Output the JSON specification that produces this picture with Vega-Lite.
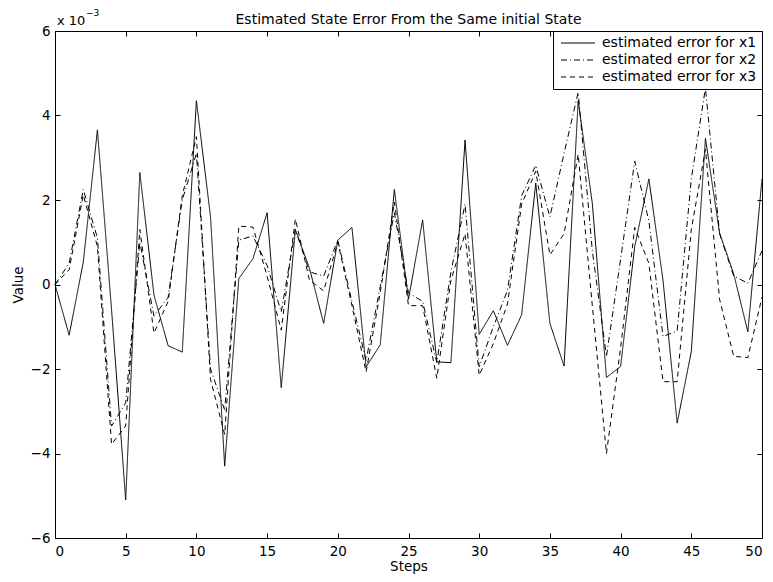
{
  "$schema": "https://vega.github.io/schema/vega-lite/v6.json",
  "autosize": {"type": "none"},
  "padding": {"left": 55, "top": 31, "right": 11, "bottom": 44},
  "width": 707,
  "height": 507,
  "background": "white",
  "title": {"text": "Estimated State Error From the Same initial State", "font": "DejaVu Sans", "fontSize": 14, "fontWeight": "normal", "color": "black", "baseline": "alphabetic", "offset": 0, "dy": 29},
  "data": {"values": [
    {"step": 0, "x1": 0, "x2": 0, "x3": 0},
    {"step": 1, "x1": -0.0012, "x2": 0.0005, "x3": 0.00035},
    {"step": 2, "x1": 0.00053, "x2": 0.00225, "x3": 0.00212},
    {"step": 3, "x1": 0.00366, "x2": 0.0011, "x3": 0.0009},
    {"step": 4, "x1": -0.0006, "x2": -0.00335, "x3": -0.00378},
    {"step": 5, "x1": -0.0051, "x2": -0.0028, "x3": -0.00335},
    {"step": 6, "x1": 0.00265, "x2": 0.001, "x3": 0.0013},
    {"step": 7, "x1": -0.00025, "x2": -0.00075, "x3": -0.00115},
    {"step": 8, "x1": -0.00145, "x2": -0.0003, "x3": -0.0004},
    {"step": 9, "x1": -0.0016, "x2": 0.002, "x3": 0.0021},
    {"step": 10, "x1": 0.00435, "x2": 0.0031, "x3": 0.0035},
    {"step": 11, "x1": 0.0016, "x2": -0.002, "x3": -0.00225},
    {"step": 12, "x1": -0.0043, "x2": -0.00297, "x3": -0.00355},
    {"step": 13, "x1": 0.00014, "x2": 0.00105, "x3": 0.00138},
    {"step": 14, "x1": 0.00061, "x2": 0.00115, "x3": 0.00136},
    {"step": 15, "x1": 0.0017, "x2": 0.00045, "x3": 0.0002},
    {"step": 16, "x1": -0.00244, "x2": -0.00065, "x3": -0.00108},
    {"step": 17, "x1": 0.0013, "x2": 0.0013, "x3": 0.00155},
    {"step": 18, "x1": 0.00038, "x2": 0.0003, "x3": 0.0001},
    {"step": 19, "x1": -0.00092, "x2": 0.0002, "x3": -0.00015},
    {"step": 20, "x1": 0.00105, "x2": 0.00105, "x3": 0.001},
    {"step": 21, "x1": 0.00135, "x2": -0.0004, "x3": -0.0005},
    {"step": 22, "x1": -0.00195, "x2": -0.0018, "x3": -0.00207},
    {"step": 23, "x1": -0.00143, "x2": -0.00005, "x3": -0.0002},
    {"step": 24, "x1": 0.00225, "x2": 0.0017, "x3": 0.00195},
    {"step": 25, "x1": -0.00035, "x2": -0.0002, "x3": -0.0005},
    {"step": 26, "x1": 0.00153, "x2": -0.0004, "x3": -0.0005},
    {"step": 27, "x1": -0.00183, "x2": -0.00185, "x3": -0.00222},
    {"step": 28, "x1": -0.00185, "x2": 0.0003, "x3": 0.0001},
    {"step": 29, "x1": 0.00342, "x2": 0.0019, "x3": 0.0012},
    {"step": 30, "x1": -0.00118, "x2": -0.00195, "x3": -0.00215},
    {"step": 31, "x1": -0.00062, "x2": -0.001, "x3": -0.0014},
    {"step": 32, "x1": -0.00144, "x2": -0.00014, "x3": -0.00046},
    {"step": 33, "x1": -0.00072, "x2": 0.0021, "x3": 0.0019},
    {"step": 34, "x1": 0.0024, "x2": 0.00282, "x3": 0.00268},
    {"step": 35, "x1": -0.00092, "x2": 0.0016, "x3": 0.0007},
    {"step": 36, "x1": -0.00193, "x2": 0.0031, "x3": 0.0012},
    {"step": 37, "x1": 0.00435, "x2": 0.00455, "x3": 0.00308},
    {"step": 38, "x1": 0.00192, "x2": 0.0008, "x3": -0.0005},
    {"step": 39, "x1": -0.0022, "x2": -0.0017, "x3": -0.004},
    {"step": 40, "x1": -0.00194, "x2": 0.0006, "x3": -0.0015},
    {"step": 41, "x1": 0.0009, "x2": 0.00292, "x3": 0.00135},
    {"step": 42, "x1": 0.0025, "x2": 0.0015, "x3": 0.0005},
    {"step": 43, "x1": 0.0001, "x2": -0.00123, "x3": -0.0023},
    {"step": 44, "x1": -0.00328, "x2": -0.0011, "x3": -0.0023},
    {"step": 45, "x1": -0.00159, "x2": 0.0025, "x3": 0.0013},
    {"step": 46, "x1": 0.00346, "x2": 0.00465, "x3": 0.0032},
    {"step": 47, "x1": 0.00122, "x2": 0.0012, "x3": -0.00035},
    {"step": 48, "x1": 0.00025, "x2": 0.0002, "x3": -0.0017},
    {"step": 49, "x1": -0.00112, "x2": 0.00003, "x3": -0.00173},
    {"step": 50, "x1": 0.0025, "x2": 0.0008, "x3": -0.0003}
  ]},
  "transform": [{"fold": ["x1", "x2", "x3"], "as": ["series", "value"]}],
  "layer": [
    {
      "mark": {"type": "line", "strokeWidth": 1, "color": "black"},
      "encoding": {
        "x": {"field": "step", "type": "quantitative", "scale": {"domain": [0, 50], "nice": false}, "axis": {"title": "Steps", "values": [0, 5, 10, 15, 20, 25, 30, 35, 40, 45, 50], "orient": "bottom", "titlePadding": 2, "labelPadding": 11}},
        "y": {"field": "value", "type": "quantitative", "scale": {"domain": [-0.006, 0.006], "nice": false}, "axis": {"title": "Value", "values": [-0.006, -0.004, -0.002, 0, 0.002, 0.004, 0.006], "labelExpr": "format(datum.value*1000, 'd')", "orient": "left", "titleX": -30, "titleY": 253.5, "labelPadding": 10}},
        "strokeDash": {"field": "series", "type": "nominal", "scale": {"domain": ["x1", "x2", "x3"], "range": [[1, 0], [6, 3, 1, 3], [5, 4]]}, "legend": {"title": null, "orient": "top-right", "offset": 0, "labelExpr": "'estimated error for ' + datum.label"}}
      }
    },
    {
      "mark": {"type": "point", "opacity": 0},
      "encoding": {
        "x": {"field": "step", "type": "quantitative", "axis": {"orient": "top", "labels": false, "title": null, "values": [0, 5, 10, 15, 20, 25, 30, 35, 40, 45, 50]}},
        "y": {"field": "value", "type": "quantitative", "axis": {"orient": "right", "labels": false, "title": null, "values": [-0.006, -0.004, -0.002, 0, 0.002, 0.004, 0.006]}}
      }
    },
    {
      "data": {"values": [{"label": "x 10"}]},
      "mark": {"type": "text", "align": "left", "baseline": "bottom", "font": "DejaVu Sans", "fontSize": 13, "color": "black", "dx": 2, "dy": -3},
      "encoding": {"x": {"datum": 0, "type": "quantitative", "axis": null}, "y": {"datum": 0.006, "type": "quantitative", "axis": null}, "text": {"field": "label"}}
    },
    {
      "data": {"values": [{"label": "−3"}]},
      "mark": {"type": "text", "align": "left", "baseline": "bottom", "font": "DejaVu Sans", "fontSize": 9, "color": "black", "dx": 31, "dy": -13},
      "encoding": {"x": {"datum": 0, "type": "quantitative", "axis": null}, "y": {"datum": 0.006, "type": "quantitative", "axis": null}, "text": {"field": "label"}}
    }
  ],
  "resolve": {"axis": {"x": "independent", "y": "independent"}},
  "config": {
    "view": {"stroke": "black", "strokeWidth": 1},
    "axis": {"grid": false, "domainColor": "black", "domainWidth": 1, "tickColor": "black", "tickSize": -5, "labelColor": "black", "titleColor": "black", "labelFont": "DejaVu Sans", "titleFont": "DejaVu Sans", "labelFontSize": 13.5, "titleFontSize": 13.5, "titleFontWeight": "normal"},
    "legend": {"strokeColor": "black", "fillColor": "white", "padding": 5, "labelFont": "DejaVu Sans", "labelFontSize": 14, "labelColor": "black", "symbolType": "M-0.8,0H6", "symbolSize": 100, "symbolStrokeWidth": 1, "symbolStrokeColor": "black", "symbolFillColor": "transparent", "rowPadding": 3, "labelOffset": 30}
  }
}
